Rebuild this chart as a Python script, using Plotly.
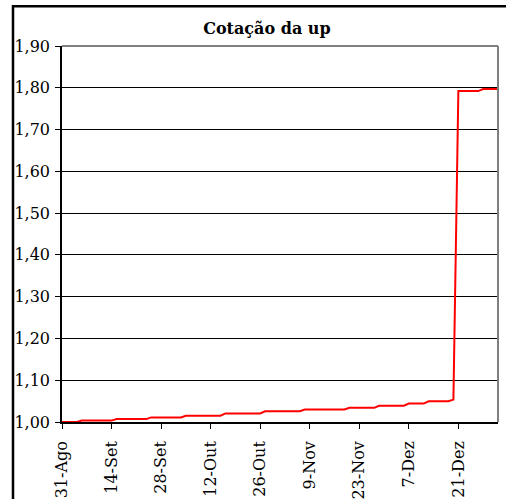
import plotly.graph_objects as go

# Business-day index (0 = 31-Ago) at the points where the step series changes
day_index = [0, 3, 4, 10, 11, 17, 18, 24, 25, 32, 33, 40, 41, 48, 49, 57, 58,
             63, 64, 69, 70, 73, 74, 78, 79, 80, 84, 85, 88]
cotacao = [1.000, 1.000, 1.0033, 1.0033, 1.007, 1.007, 1.011, 1.011, 1.015, 1.015,
           1.0205, 1.0205, 1.0256, 1.0256, 1.030, 1.030, 1.034, 1.034, 1.039, 1.039,
           1.044, 1.044, 1.0495, 1.0495, 1.0535, 1.792, 1.792, 1.797, 1.797]

tick_positions = [0, 10, 20, 30, 40, 50, 60, 70, 80]
tick_labels = ["31-Ago", "14-Set", "28-Set", "12-Out", "26-Out",
               "9-Nov", "23-Nov", "7-Dez", "21-Dez"]
y_ticks = [1.0, 1.1, 1.2, 1.3, 1.4, 1.5, 1.6, 1.7, 1.8, 1.9]

FONT = "DejaVu Serif"

fig = go.Figure()
fig.add_trace(go.Scatter(
    x=day_index, y=cotacao, mode="lines",
    line=dict(color="#FF0000", width=2),
    hoverinfo="skip", showlegend=False,
))

fig.update_layout(
    width=506, height=499,
    margin=dict(l=62, r=8, t=46, b=77, pad=0, autoexpand=False),
    paper_bgcolor="white", plot_bgcolor="white",
    separators=", ",
    font=dict(family=FONT, size=16, color="#000000"),
    title=dict(text="<b>Cotação da up</b>", font=dict(family=FONT, size=16, color="#000"),
               xref="paper", x=0.47, xanchor="center",
               yref="container", y=1 - 28 / 499, yanchor="middle", automargin=False),
    xaxis=dict(range=[0, 88], tickmode="array", tickvals=tick_positions, ticktext=tick_labels,
               tickangle=-90, ticks="outside", ticklen=5, tickcolor="#000", tickwidth=1,
               showgrid=False, zeroline=False, showline=True, linecolor="#000", linewidth=1.5,
               layer="below traces", ticklabelstandoff=6, automargin=False,
               tickfont=dict(family=FONT, size=16, color="#000")),
    yaxis=dict(range=[1.0, 1.9], tickmode="array", tickvals=y_ticks, tickformat=".2f",
               ticks="outside", ticklen=5, tickcolor="#000", tickwidth=1,
               showgrid=True, gridcolor="#000", gridwidth=1, zeroline=False,
               showline=True, linecolor="#000", linewidth=1.5,
               layer="below traces", ticklabelstandoff=2, automargin=False,
               tickfont=dict(family=FONT, size=16, color="#000")),
    shapes=[
        dict(type="line", xref="paper", yref="paper", x0=0, x1=1, y0=1, y1=1,
             line=dict(color="#808080", width=2)),
        dict(type="line", xref="paper", yref="paper", x0=1, x1=1, y0=0, y1=1,
             line=dict(color="#808080", width=2)),
        dict(type="rect", xref="paper", yref="paper",
             x0=(13 - 62) / 436, x1=2, y0=-2, y1=(422.3 - 6) / 376.6,
             line=dict(color="#000000", width=2.5), fillcolor="rgba(0,0,0,0)"),
    ],
)

fig.write_html("out.html")
